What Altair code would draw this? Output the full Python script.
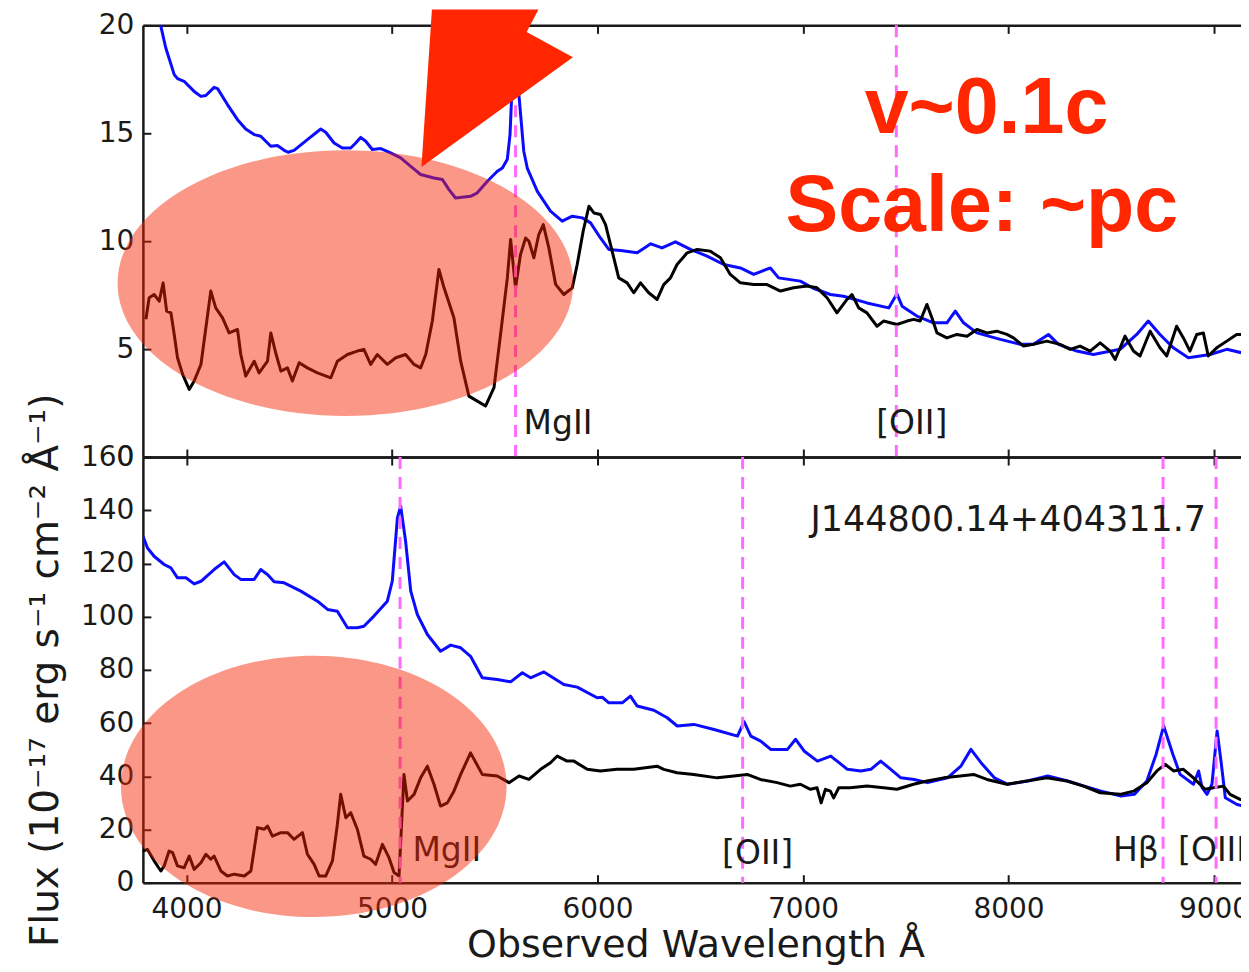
import altair as alt
import pandas as pd

# ---------------- data ----------------
TOP_BLUE_WL = [3855, 3875, 3899, 3940, 3956, 3988, 4037, 4070, 4094, 4134,
               4151, 4199, 4248, 4288, 4329, 4361, 4394, 4410, 4442, 4475,
               4494, 4523, 4588, 4653, 4677, 4718, 4758, 4799, 4823, 4847,
               4872, 4904, 4945, 4993, 5042, 5091, 5139, 5204, 5245, 5277,
               5309, 5382, 5415, 5464, 5512, 5537, 5561, 5574, 5581, 5600,
               5619, 5641, 5658, 5707, 5771, 5828, 5877, 5926, 5966, 6014,
               6055, 6112, 6193, 6259, 6314, 6379, 6452, 6533, 6614, 6695,
               6760, 6841, 6881, 6987, 7050, 7133, 7197, 7311, 7417, 7457,
               7482, 7554, 7635, 7700, 7741, 7781, 7846, 7960, 8057, 8121,
               8194, 8243, 8332, 8413, 8543, 8624, 8680, 8737, 8802, 8875,
               8981, 9062, 9170]
TOP_BLUE_FLUX = [21.2, 19.95, 18.95, 17.72, 17.53, 17.41, 16.94, 16.71, 16.75, 17.13,
                 17.07, 16.33, 15.63, 15.20, 14.94, 14.86, 14.55, 14.40, 14.43, 14.21,
                 14.12, 14.21, 14.71, 15.20, 15.05, 14.55, 14.32, 14.32, 14.55, 14.81,
                 14.63, 14.25, 14.29, 14.09, 13.86, 13.47, 13.09, 12.93, 12.86, 12.39,
                 12.00, 12.08, 12.24, 12.78, 13.24, 13.39, 13.8, 14.94, 16.48, 18.5,
                 16.6, 14.17, 13.39, 12.31, 11.39, 10.93, 11.16, 11.08, 10.85, 10.15,
                 9.62, 9.57, 9.46, 9.88, 9.69, 9.97, 9.62, 9.31, 8.92, 8.76,
                 8.46, 8.76, 8.30, 8.15, 7.82, 7.53, 7.45, 7.14, 6.91, 7.56,
                 6.99, 6.53, 6.22, 6.22, 6.76, 6.22, 5.75, 5.45, 5.22, 5.22,
                 5.68, 5.22, 4.91, 4.75, 4.99, 5.68, 6.30, 5.68, 5.06, 4.60,
                 4.75, 4.99, 4.75]

TOP_BLACK_WL = [3802, 3818, 3842, 3867, 3886, 3903, 3924, 3940, 3956, 3981,
                4013, 4037, 4070, 4094, 4118, 4142, 4175, 4207, 4248, 4264,
                4288, 4329, 4353, 4394, 4410, 4434, 4459, 4491, 4515, 4548,
                4588, 4637, 4702, 4734, 4783, 4831, 4863, 4896, 4928, 4977,
                5018, 5066, 5107, 5139, 5164, 5196, 5228, 5253, 5301, 5334,
                5374, 5415, 5455, 5496, 5528, 5561, 5577, 5601, 5625, 5650,
                5666, 5690, 5714, 5736, 5763, 5796, 5836, 5877, 5901, 5930,
                5958, 5982, 6014, 6039, 6071, 6103, 6144, 6176, 6209, 6249,
                6290, 6322, 6355, 6387, 6436, 6485, 6549, 6598, 6646, 6695,
                6760, 6825, 6890, 6954, 7019, 7068, 7117, 7165, 7214, 7238,
                7271, 7311, 7360, 7392, 7457, 7506, 7538, 7570, 7603, 7627,
                7652, 7700, 7749, 7798, 7846, 7895, 7943, 7992, 8024, 8073,
                8121, 8186, 8251, 8300, 8348, 8397, 8446, 8494, 8519, 8567,
                8608, 8640, 8689, 8737, 8770, 8818, 8851, 8883, 8916, 8948,
                8972, 9013, 9062, 9110, 9170]
TOP_BLACK_FLUX = [6.38, 7.38, 7.53, 7.22, 8.07, 6.76, 6.68, 5.68, 4.60, 3.83,
                  3.13, 3.52, 4.29, 5.99, 7.69, 6.91, 6.45, 5.75, 5.91, 4.75,
                  3.75, 4.44, 3.90, 4.44, 5.75, 4.82, 3.98, 4.13, 3.52, 4.37,
                  4.13, 3.90, 3.67, 4.44, 4.75, 4.91, 4.99, 4.29, 4.75, 4.29,
                  4.60, 4.75, 4.29, 4.13, 4.75, 6.30, 8.69, 7.84, 6.45, 4.44,
                  2.82, 2.59, 2.36, 3.21, 5.68, 8.30, 10.08, 7.84, 9.38, 10.15,
                  10.0, 9.23, 10.31, 10.77, 9.69, 8.0, 7.53, 7.84, 8.92, 10.46,
                  11.62, 11.31, 11.24, 10.77, 9.54, 8.30, 8.07, 7.61, 8.07, 7.61,
                  7.30, 7.99, 8.30, 8.92, 9.46, 9.62, 9.54, 9.23, 8.46, 8.07,
                  7.99, 7.99, 7.69, 7.84, 7.92, 7.84, 7.38, 6.68, 7.30, 7.53,
                  6.91, 6.68, 6.06, 6.30, 6.14, 6.30, 6.38, 6.30, 7.07, 6.45,
                  5.75, 5.52, 5.68, 5.60, 5.91, 5.75, 5.83, 5.68, 5.52, 5.14,
                  5.22, 5.37, 5.22, 4.99, 5.14, 4.91, 5.29, 4.91, 4.52, 5.60,
                  4.91, 4.68, 5.83, 5.06, 4.68, 6.06, 5.52, 4.91, 5.68, 5.75,
                  4.68, 5.06, 5.37, 5.68, 5.68]

BOT_BLUE_WL = [3788, 3810, 3842, 3891, 3924, 3956, 3997, 4037, 4070, 4134,
               4183, 4232, 4264, 4329, 4361, 4394, 4426, 4475, 4556, 4637,
               4686, 4734, 4783, 4831, 4863, 4912, 4977, 5001, 5026, 5042,
               5066, 5091, 5123, 5172, 5236, 5285, 5334, 5382, 5439, 5512,
               5577, 5634, 5674, 5739, 5836, 5901, 5998, 6023, 6055, 6120,
               6160, 6193, 6274, 6339, 6388, 6469, 6567, 6681, 6713, 6746,
               6794, 6843, 6924, 6964, 7005, 7070, 7135, 7216, 7281, 7330,
               7378, 7427, 7476, 7541, 7606, 7703, 7768, 7817, 7866, 7931,
               7996, 8093, 8191, 8288, 8369, 8450, 8547, 8612, 8673, 8718,
               8755, 8800, 8835, 8900, 8925, 8942, 8966, 8990, 9015, 9034,
               9055, 9112, 9170]
BOT_BLUE_FLUX = [130.2, 125.8, 122.7, 119.6, 118.3, 114.6, 114.6, 112.3, 113.3, 117.7,
                 120.6, 115.8, 114.0, 114.0, 117.7, 115.8, 113.1, 112.7, 109.6, 105.8,
                 102.7, 102.0, 95.8, 95.8, 96.4, 100.2, 105.8, 113.3, 137.1, 141.5,
                 128.3, 109.6, 100.8, 93.3, 87.0, 89.3, 88.3, 85.1, 77.0, 76.4,
                 75.5, 78.9, 77.0, 79.2, 74.5, 73.5, 69.5, 69.7, 67.6, 67.6,
                 70.1, 66.4, 64.8, 62.0, 58.9, 59.5, 57.6, 55.1, 60.5, 55.1,
                 53.2, 50.1, 50.1, 53.9, 49.5, 45.7, 47.6, 42.6, 42.0, 42.6,
                 45.7, 42.6, 39.4, 38.8, 37.6, 39.4, 43.8, 50.1, 45.1, 39.4,
                 37.0, 38.2, 40.1, 38.2, 36.3, 34.4, 32.6, 33.2, 38.2, 48.2,
                 58.9, 48.2, 40.7, 37.0, 42.0, 35.7, 33.2, 37.0, 57.0, 45.7,
                 31.9, 29.4, 28.2]

BOT_BLACK_WL = [3788, 3810, 3842, 3875, 3891, 3915, 3932, 3956, 3988, 4013,
                4037, 4070, 4094, 4118, 4134, 4167, 4199, 4232, 4281, 4313,
                4345, 4378, 4394, 4418, 4459, 4491, 4523, 4564, 4588, 4621,
                4645, 4677, 4710, 4734, 4750, 4775, 4799, 4831, 4863, 4896,
                4920, 4953, 4985, 5010, 5034, 5058, 5075, 5107, 5139, 5172,
                5204, 5236, 5269, 5301, 5334, 5382, 5439, 5512, 5569, 5618,
                5666, 5723, 5771, 5804, 5852, 5885, 5950, 6014, 6095, 6176,
                6290, 6322, 6387, 6468, 6582, 6663, 6728, 6792, 6874, 6938,
                6987, 7036, 7068, 7088, 7109, 7133, 7149, 7174, 7230, 7311,
                7392, 7457, 7538, 7603, 7684, 7765, 7830, 7895, 7992, 8089,
                8186, 8284, 8365, 8446, 8543, 8608, 8673, 8722, 8762, 8803,
                8851, 8900, 8956, 8997, 9046, 9078, 9127, 9170]
BOT_BLACK_FLUX = [11.9, 12.5, 8.2, 4.4, 6.3, 11.9, 11.3, 6.3, 5.6, 10.0,
                  5.0, 7.5, 10.7, 8.8, 10.0, 4.4, 2.5, 3.2, 2.5, 4.4,
                  20.7, 20.1, 21.3, 17.5, 18.8, 18.8, 16.3, 18.8, 10.7, 6.9,
                  2.5, 2.5, 8.2, 21.9, 33.2, 24.4, 26.3, 20.1, 10.0, 8.8,
                  6.9, 14.4, 9.4, 3.8, 2.5, 40.7, 30.7, 33.2, 39.4, 43.8,
                  37.0, 28.8, 30.0, 34.4, 40.7, 48.8, 40.7, 40.1, 37.6, 40.1,
                  38.8, 42.6, 45.1, 47.6, 45.7, 45.7, 42.6, 42.0, 42.6, 42.6,
                  43.8, 42.6, 41.3, 40.7, 39.4, 40.1, 40.7, 38.8, 37.6, 36.3,
                  37.0, 35.1, 35.7, 30.0, 35.1, 34.4, 31.9, 35.7, 35.7, 36.3,
                  35.7, 35.1, 37.0, 38.2, 39.4, 40.1, 40.7, 38.8, 37.0, 38.2,
                  39.4, 38.2, 36.3, 33.8, 33.2, 34.4, 37.6, 42.0, 44.5, 42.0,
                  42.6, 39.4, 35.1, 35.7, 36.3, 33.2, 31.3, 31.3]

# emission line markers
TOP_LINE_WL = [5601, 7454]
TOP_LINE_NAMES = ["MgII", "[OII]"]
TOP_LABEL_WL = [5640, 7356]
TOP_LABEL_FLUX = [1.05, 1.05]

BOT_LINE_WL = [5039, 6706, 8752, 9010]
BOT_LINE_NAMES = ["MgII", "[OII]", "Hβ", "[OIII]"]
BOT_LABEL_WL = [5099, 6606, 8508, 8825]
BOT_LABEL_FLUX = [8.2, 7.0, 8.2, 8.2]

BOT_OBJECT = ["J144800.14+404311.7"]
BOT_OBJECT_WL = [7036]
BOT_OBJECT_FLUX = [132.1]

# red annotations (overlay)
NOTE_TEXT = ["v~0.1c", "Scale: ~pc"]
NOTE_WL = [7300, 6915]
NOTE_FLUX = [15.01, 10.46]
TOP_ELLIPSE = {"wl": [4773], "flux": [8.06]}
BOT_ELLIPSE = {"wl": [4619], "flux": [36.2]}
ARROW_TIP = {"wl": [5143], "flux": [13.44]}

X_TICKS = [4000, 5000, 6000, 7000, 8000, 9000]
TOP_Y_TICKS = [0, 5, 10, 15, 20]
BOT_Y_TICKS = [0, 20, 40, 60, 80, 100, 120, 140, 160]

# ---------------- styling ----------------
FONT = "DejaVu Sans"
INK = "#1a1a1a"
BLUE = "#0b0bff"
RED = "#ff2600"
ELLIPSE_RED = "#f52200"
MAGENTA = "#ff6bff"
W = 1106
H_TOP = 432
H_BOT = 426
XS = alt.Scale(domain=[3787.5, 9165.3], nice=False, zero=False)

TOP_ELLIPSE_PATH = "M-1,0A1,0.583,0,1,1,1,0A1,0.583,0,1,1,-1,0Z"
BOT_ELLIPSE_PATH = "M-1,0A1,0.678,0,1,1,1,0A1,0.678,0,1,1,-1,0Z"
ARROW_PATH = "M0,0L0.105,-1.577L1.171,-1.577L1.053,-1.35L1.516,-1.097Z"


def axis(**kw):
    base = dict(tickSize={"expr": "-8"}, tickWidth=2, tickColor=INK,
                domainColor=INK, domainWidth=2.5, grid=False,
                labelFont=FONT, labelFontSize=28, labelColor=INK,
                titleFont=FONT, titleFontWeight="normal", titleColor=INK)
    base.update(kw)
    return alt.Axis(**base)


def enc(ys):
    return dict(x=alt.X("wl:Q", scale=XS, axis=None), y=alt.Y("flux:Q", scale=ys, axis=None))


def panel(blue_wl, blue_fx, black_wl, black_fx, line_wl, lab_wl, lab_fx, lab_txt,
          ydom, yticks, height, bottom, extra_layers_fn):
    ys = alt.Scale(domain=ydom, nice=False, zero=False)
    if bottom:
        xax = axis(orient="bottom", values=X_TICKS, format="d", labelPadding=21,
                   title="Observed Wavelength Å", titleFontSize=38,
                   titleBaseline="top", titleY=44)
        yax = axis(orient="left", values=yticks, format="d", labelPadding=17,
                   title="Flux (10⁻¹⁷ erg s⁻¹ cm⁻² Å⁻¹)", titleFontSize=39,
                   titleAngle=270, titleBaseline="alphabetic", titleX=-85)
    else:
        xax = axis(orient="bottom", values=X_TICKS, labels=False, title="")
        yax = axis(orient="left", values=yticks, format="d", labelPadding=17, title="")
    topax = axis(orient="top", values=X_TICKS, labels=False, title="")

    blue = alt.Chart(pd.DataFrame({"wl": blue_wl, "flux": blue_fx})).mark_line(
        color=BLUE, strokeWidth=3, strokeJoin="round", clip=True
    ).encode(x=alt.X("wl:Q", scale=XS, axis=xax), y=alt.Y("flux:Q", scale=ys, axis=yax))

    black = alt.Chart(pd.DataFrame({"wl": black_wl, "flux": black_fx})).mark_line(
        color="black", strokeWidth=3, strokeJoin="round", clip=True
    ).encode(**enc(ys))

    vlines = alt.Chart(pd.DataFrame({"wl": line_wl})).mark_rule(
        color=MAGENTA, strokeWidth=3, strokeDash=[12, 8]
    ).encode(x=alt.X("wl:Q", scale=XS, axis=topax))

    labels = alt.Chart(pd.DataFrame({"wl": lab_wl, "flux": lab_fx, "t": lab_txt})).mark_text(
        align="left", baseline="alphabetic", font=FONT, fontSize=33, color=INK, clip=True
    ).encode(text="t:N", **enc(ys))

    layers = [blue, black, vlines, labels] + extra_layers_fn(ys)
    return (alt.layer(*layers)
            .resolve_axis(x="independent", y="independent")
            .properties(width=W, height=height))


def top_extras(ys):
    ell = alt.Chart(pd.DataFrame(TOP_ELLIPSE)).mark_point(
        shape=TOP_ELLIPSE_PATH, filled=True, color=ELLIPSE_RED, opacity=0.47,
        size=456 ** 2, strokeWidth=0
    ).encode(**enc(ys))
    arrow = alt.Chart(pd.DataFrame(ARROW_TIP)).mark_point(
        shape=ARROW_PATH, filled=True, color=RED, opacity=1, size=40000, strokeWidth=0
    ).encode(**enc(ys))
    note = alt.Chart(pd.DataFrame({"wl": NOTE_WL, "flux": NOTE_FLUX, "t": NOTE_TEXT})).mark_text(
        align="left", baseline="alphabetic", font="Liberation Sans", fontWeight="bold",
        fontSize=79, color=RED
    ).encode(text="t:N", **enc(ys))
    return [ell, arrow, note]


def bot_extras(ys):
    name = alt.Chart(pd.DataFrame({"wl": BOT_OBJECT_WL, "flux": BOT_OBJECT_FLUX, "t": BOT_OBJECT})).mark_text(
        align="left", baseline="alphabetic", font=FONT, fontSize=35, color=INK
    ).encode(text="t:N", **enc(ys))
    ell = alt.Chart(pd.DataFrame(BOT_ELLIPSE)).mark_point(
        shape=BOT_ELLIPSE_PATH, filled=True, color=ELLIPSE_RED, opacity=0.47,
        size=386 ** 2, strokeWidth=0
    ).encode(**enc(ys))
    return [name, ell]


top = panel(TOP_BLUE_WL, TOP_BLUE_FLUX, TOP_BLACK_WL, TOP_BLACK_FLUX, TOP_LINE_WL,
            TOP_LABEL_WL, TOP_LABEL_FLUX, TOP_LINE_NAMES, [0, 20], TOP_Y_TICKS, H_TOP,
            False, top_extras)
bot = panel(BOT_BLUE_WL, BOT_BLUE_FLUX, BOT_BLACK_WL, BOT_BLACK_FLUX, BOT_LINE_WL,
            BOT_LABEL_WL, BOT_LABEL_FLUX, BOT_LINE_NAMES, [0, 160], BOT_Y_TICKS, H_BOT,
            True, bot_extras)

chart = alt.vconcat(top, bot, spacing=0, bounds="flush").properties(
    padding={"left": 18, "top": 0, "right": -9, "bottom": 0},
    background="white",
).configure_view(strokeWidth=0)

chart.save("out.html", embed_options={"renderer": "svg", "actions": False})
